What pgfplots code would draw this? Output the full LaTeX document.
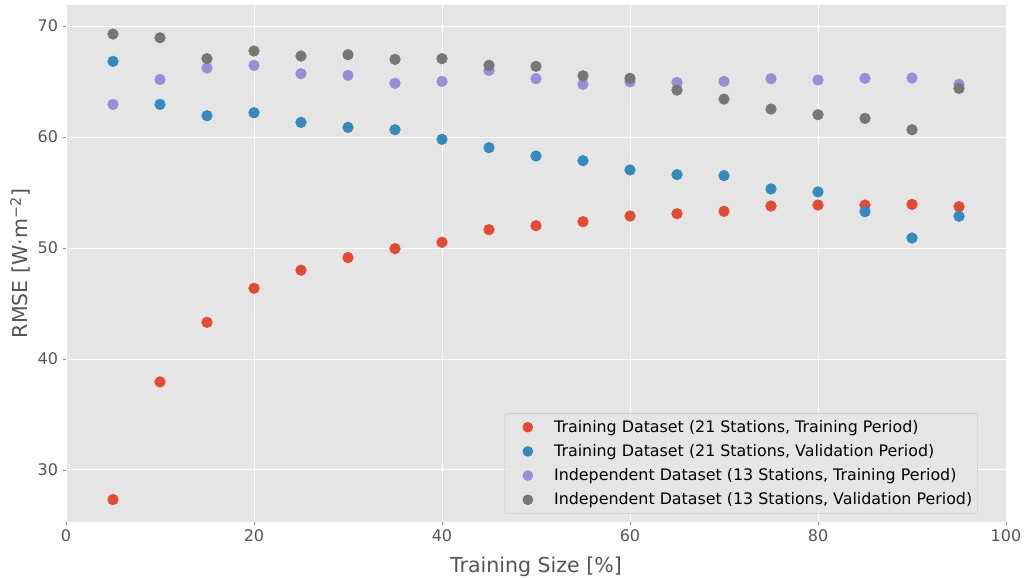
\documentclass[border=0pt]{standalone}
\usepackage{pgfplots}
\pgfplotsset{compat=1.18}
\usepackage{fontspec}
\setmainfont{DejaVu Sans}
\definecolor{cA}{HTML}{E24A33}
\definecolor{cB}{HTML}{348ABD}
\definecolor{cC}{HTML}{988ED5}
\definecolor{cD}{HTML}{777777}
\definecolor{bgc}{HTML}{E5E5E5}
\definecolor{tickc}{HTML}{555555}
\definecolor{legc}{HTML}{CCCCCC}
\pgfplotstableread{
x y
5 27.32
10 37.93
15 43.30
20 46.37
25 48.00
30 49.13
35 49.94
40 50.51
45 51.65
50 52.01
55 52.37
60 52.88
65 53.09
70 53.30
75 53.78
80 53.87
85 53.87
90 53.93
95 53.72
}\tA
\pgfplotstableread{
x y
5 66.82
10 62.94
15 61.92
20 62.19
25 61.32
30 60.87
35 60.66
40 59.79
45 59.04
50 58.29
55 57.87
60 57.03
65 56.61
70 56.52
75 55.32
80 55.05
85 53.27
90 50.90
95 52.86
}\tB
\pgfplotstableread{
x y
5 62.94
10 65.19
15 66.22
20 66.46
25 65.71
30 65.56
35 64.84
40 65.02
45 66.00
50 65.26
55 64.75
60 64.98
65 64.92
70 65.02
75 65.26
80 65.14
85 65.29
90 65.32
95 64.75
}\tC
\pgfplotstableread{
x y
5 69.28
10 68.95
15 67.06
20 67.75
25 67.30
30 67.42
35 67.00
40 67.06
45 66.46
50 66.37
55 65.52
60 65.29
65 64.23
70 63.42
75 62.52
80 62.01
85 61.68
90 60.66
95 64.38
}\tD
\begin{document}
\begin{tikzpicture}
\begin{axis}[
  scale only axis, width=705pt, height=387.75pt,
  xmin=0, xmax=100, ymin=25.3, ymax=71.9,
  axis background/.style={fill=bgc},
  axis line style={draw=none},
  grid=major, major grid style={white, line width=0.6pt},
  xtick={0,20,40,60,80,100}, ytick={30,40,50,60,70},
  xtick pos=lower, ytick pos=left,
  tick align=outside, major tick length=2.5pt,
  tick style={color=tickc!70, line width=0.5pt},
  tick label style={font=\fontsize{12}{14}\selectfont, color=tickc},
  /pgf/number format/assume math mode=true,
  xlabel={Training Size [\%]},
  ylabel={RMSE [W·m\textsuperscript{−2}]},
  label style={font=\fontsize{15.4}{18}\selectfont, color=tickc},
  xlabel style={yshift=-4.5pt},
  ylabel style={yshift=-1.5pt},
  legend style={at={(0.970,0.016)}, anchor=south east,
    draw=legc, fill=bgc, fill opacity=0.8, text opacity=1,
    rounded corners=2pt, font=\fontsize{11.9}{14}\selectfont,
    row sep=3.6pt, inner xsep=2pt, inner ysep=3pt},
  legend cell align=left,
  legend image code/.code={\path[draw=none] (0pt,0pt) -- (33pt,0pt); \fill[#1, draw=none, fill opacity=1] (15.25pt,0pt) circle (4pt);},
  every axis plot/.append style={only marks, mark=*, mark size=4pt},
]
\addplot[cA, mark options={draw=none, fill=cA}] table {\tA};
\addlegendentry{Training Dataset (21 Stations, Training Period)}
\addplot[cB, mark options={draw=none, fill=cB}] table {\tB};
\addlegendentry{Training Dataset (21 Stations, Validation Period)}
\addplot[cC, mark options={draw=none, fill=cC}] table {\tC};
\addlegendentry{Independent Dataset (13 Stations, Training Period)}
\addplot[cD, mark options={draw=none, fill=cD}] table {\tD};
\addlegendentry{Independent Dataset (13 Stations, Validation Period)}
\end{axis}
\pgfresetboundingbox
\path ([shift={(-49.5pt,-42pt)}]current axis.south west) rectangle ([shift={(14.25pt,3.75pt)}]current axis.north east);
\end{tikzpicture}
\end{document}
